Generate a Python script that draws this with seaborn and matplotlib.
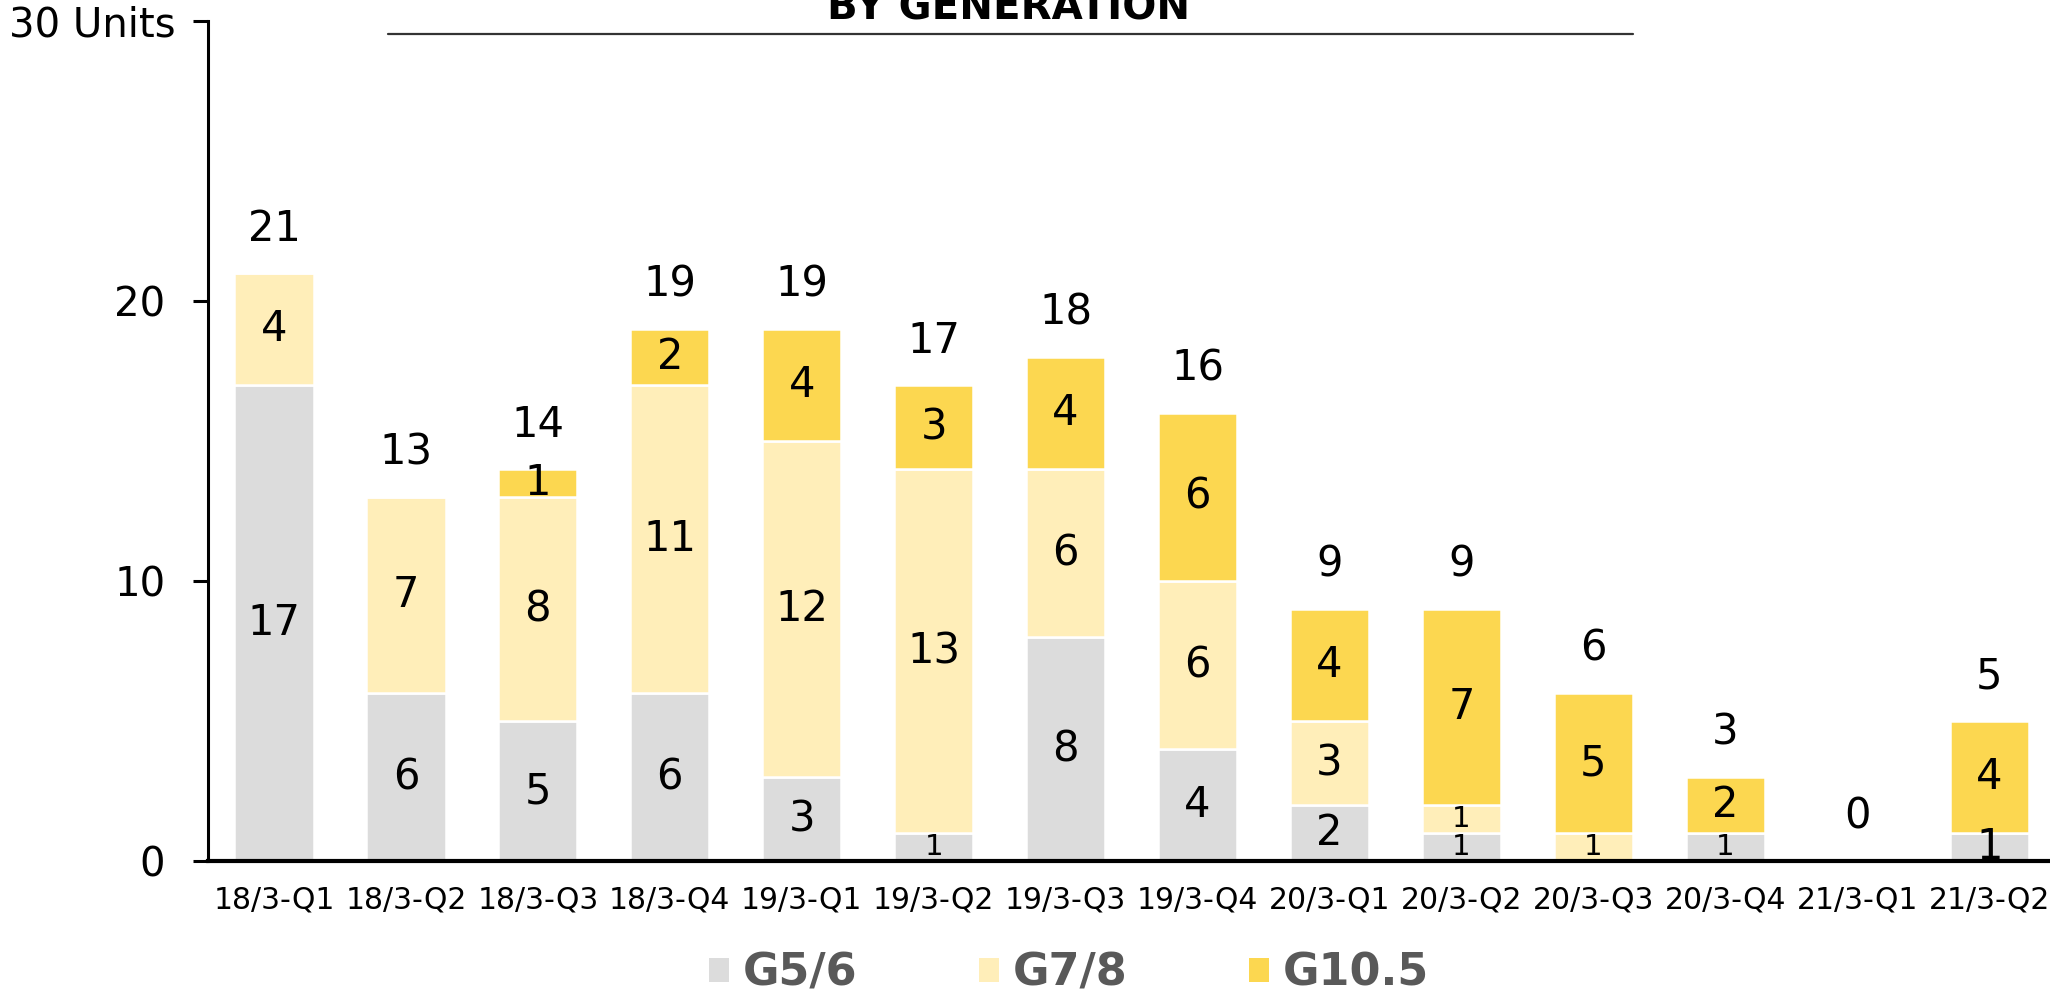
import numpy as np
import pandas as pd
import matplotlib.pyplot as plt
import matplotlib.transforms as mtransforms
from matplotlib.patches import Patch
from matplotlib.lines import Line2D
import seaborn as sns

# Données
quarters = ["18/3-Q1", "18/3-Q2", "18/3-Q3", "18/3-Q4", "19/3-Q1", "19/3-Q2", "19/3-Q3",
            "19/3-Q4", "20/3-Q1", "20/3-Q2", "20/3-Q3", "20/3-Q4", "21/3-Q1", "21/3-Q2"]
g56 = [17, 6, 5, 6, 3, 1, 8, 4, 2, 1, 0, 1, 0, 1]
g78 = [4, 7, 8, 11, 12, 13, 6, 6, 3, 1, 1, 0, 0, 0]
g105 = [0, 0, 1, 2, 4, 3, 4, 6, 4, 7, 5, 2, 0, 4]
series_names = ["G5/6", "G7/8", "G10.5"]
y_ticks = [0, 10, 20, 30]
y_ticklabels = ["0", "10", "20", "30 Units"]

# étiquettes "1" écrites en petit (série, index)
small_labels = {(0, 5), (0, 9), (1, 9), (1, 10), (0, 11)}

colors = ["#DCDCDC", "#FFEEB9", "#FCD750"]

df = pd.DataFrame({"quarter": quarters, "G5/6": g56, "G7/8": g78, "G10.5": g105})
df["total"] = df[series_names].sum(axis=1)

sns.set_theme(style="white")
plt.rcParams["font.family"] = ["DejaVu Sans"]
plt.rcParams["text.color"] = "black"
plt.rcParams["xtick.color"] = "black"
plt.rcParams["ytick.color"] = "black"

fig = plt.figure(figsize=(20.5, 9.94), dpi=100)
ax = fig.add_axes([208 / 2050, 1 - 861 / 994, 1 - 208 / 2050, 840 / 994])

# Barres empilées
bottom = np.zeros(len(df))
for i, name in enumerate(series_names):
    sns.barplot(data=df, x="quarter", y=name, color=colors[i], saturation=1,
                width=0.6, edgecolor="white", linewidth=1.8, bottom=bottom, ax=ax)
    for j, v in enumerate(df[name]):
        if v > 0:
            fs = 21 if (i, j) in small_labels else 30
            ax.text(j, bottom[j] + v / 2, str(v), ha="center", va="center",
                    fontsize=fs, color="black")
    bottom = bottom + df[name].values

# Totaux au-dessus des barres
for j, t in enumerate(df["total"]):
    ax.annotate(str(t), (j, t), xytext=(0, 32), textcoords="offset points",
                ha="center", va="center", fontsize=30, color="black")

ax.set_xlim(-0.5, 13.46)
ax.set_ylim(0, 30)
ax.set_yticks(y_ticks)
ax.set_yticklabels(y_ticklabels)
ax.set_xlabel("")
ax.set_ylabel("")

for s in ["top", "right"]:
    ax.spines[s].set_visible(False)
ax.spines["left"].set_linewidth(2.2)
ax.spines["left"].set_color("black")
ax.spines["bottom"].set_linewidth(3)
ax.spines["bottom"].set_color("black")

ax.tick_params(axis="y", direction="out", length=10.8, width=2.2, color="black",
               pad=20, labelsize=29, labelcolor="black", left=True)
ax.tick_params(axis="x", length=0, pad=18, labelsize=21.5, labelcolor="black")

# "30 Units" un peu plus près de l'axe
lab = ax.get_yticklabels()[-1]
lab.set_transform(lab.get_transform() + mtransforms.ScaledTranslation(10 / 100, 0, fig.dpi_scale_trans))

# Titre (coupé en haut) et ligne
fig.text(1009 / 2050, 1 - 20 / 994, "BY GENERATION", ha="center", va="baseline",
         fontsize=29, fontweight="bold", color="black")
fig.add_artist(Line2D([388 / 2050, 1633 / 2050], [1 - 34 / 994, 1 - 34 / 994],
                      color="#333333", linewidth=1.6))

# Légende
handles = [Patch(facecolor=c, edgecolor="none") for c in colors]
leg = fig.legend(handles, series_names, loc="center", ncol=3,
                 bbox_to_anchor=(1069 / 2050, 1 - 973 / 994), frameon=False,
                 prop={"size": 32, "weight": "bold"}, labelcolor="#595959",
                 handlelength=0.45, handleheight=0.45, handletextpad=0.3,
                 columnspacing=2.75, borderpad=0)

plt.savefig("out.png", dpi=100)
